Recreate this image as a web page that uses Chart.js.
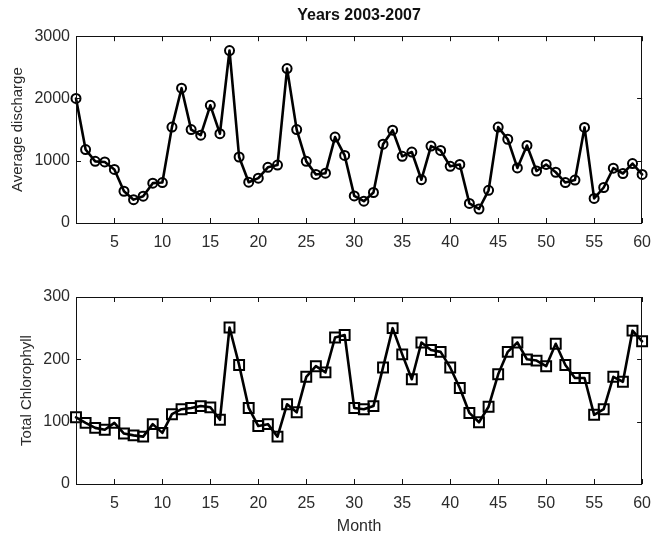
<!DOCTYPE html>
<html>
<head>
<meta charset="utf-8">
<script src="https://cdn.jsdelivr.net/npm/chart.js@4.4.0/dist/chart.umd.min.js"></script>
<style>
  html, body { margin: 0; padding: 0; background: #ffffff; }
  #wrap { position: relative; width: 661px; height: 537px; overflow: hidden; }
  canvas { position: absolute; left: 0; }
  #c1 { top: 0; }
  #c2 { top: 268px; }
</style>
</head>
<body>
<div id="wrap">
  <canvas id="c1" width="661" height="268"></canvas>
  <canvas id="c2" width="661" height="269"></canvas>
</div>
<script>
const months = [1,2,3,4,5,6,7,8,9,10,11,12,13,14,15,16,17,18,19,20,
  21,22,23,24,25,26,27,28,29,30,31,32,33,34,35,36,37,38,39,40,
  41,42,43,44,45,46,47,48,49,50,51,52,53,54,55,56,57,58,59,60];

const discharge = [2000,1180,990,980,860,510,375,430,640,650,
  1540,2165,1500,1410,1890,1435,2770,1060,655,720,
  895,930,2480,1500,990,780,800,1380,1085,435,
  350,490,1265,1490,1070,1140,695,1235,1165,910,
  940,315,225,525,1540,1345,885,1245,835,940,
  815,650,690,1535,395,570,880,795,955,780];

const chlorophyll = [107,98,90,87,98,81,78,76,96,82,
  112,120,122,125,123,103,251,191,122,93,
  96,76,128,115,172,189,179,235,239,122,
  120,125,187,250,208,168,227,215,212,187,
  154,114,99,124,176,212,227,200,198,189,
  225,191,170,170,111,120,172,164,246,229];

const monthTicks = [5,10,15,20,25,30,35,40,45,50,55,60];
const dischargeTicks = [0,1000,2000,3000];
const chlorophyllTicks = [0,100,200,300];

const titleText = 'Years 2003-2007';
const yLabelTop = 'Average discharge';
const yLabelBottom = 'Total Chlorophyll';
const xLabel = 'Month';

const FONT = "'Liberation Sans', Arial, Helvetica, sans-serif";
const TEXT = '#2b2b2b';

const boxPlugin = {
  id: 'matlabBox',
  afterDraw(chart) {
    const ctx = chart.ctx;
    const a = chart.chartArea;
    const xs = chart.scales.x, ys = chart.scales.y;
    const L = 5;
    ctx.save();
    ctx.strokeStyle = '#111111';
    ctx.lineWidth = 1;
    ctx.strokeRect(Math.round(a.left) + 0.5, Math.round(a.top) + 0.5,
      Math.round(a.right - a.left) - 1, Math.round(a.bottom - a.top));
    ctx.beginPath();
    xs.ticks.forEach(t => {
      const px = Math.round(xs.getPixelForValue(t.value)) + 0.5;
      ctx.moveTo(px, a.bottom); ctx.lineTo(px, a.bottom - L);
      ctx.moveTo(px, a.top); ctx.lineTo(px, a.top + L);
    });
    ys.ticks.forEach(t => {
      const py = Math.round(ys.getPixelForValue(t.value)) + 0.5;
      ctx.moveTo(a.left, py); ctx.lineTo(a.left + L, py);
      ctx.moveTo(a.right, py); ctx.lineTo(a.right - L, py);
    });
    ctx.stroke();
    ctx.restore();
  }
};

function makeChart(id, values, yTicks, yMax, pointStyle, radius, opts) {
  const data = months.map((m, i) => ({ x: m, y: values[i] }));
  return new Chart(document.getElementById(id), {
    type: 'line',
    data: {
      datasets: [{
        data: data,
        borderColor: '#000000',
        borderWidth: 2.6,
        borderJoinStyle: 'round',
        borderCapStyle: 'round',
        pointStyle: pointStyle,
        pointRadius: radius,
        pointBorderWidth: 2,
        pointBorderColor: '#000000',
        pointBackgroundColor: 'rgba(255,255,255,0)',
        tension: 0,
        clip: 10
      }]
    },
    options: {
      responsive: false,
      animation: false,
      events: [],
      layout: { padding: { left: 0, right: 9, top: opts.padTop, bottom: 0 } },
      plugins: {
        legend: { display: false },
        tooltip: { enabled: false },
        title: opts.title ? {
          display: true,
          text: opts.title,
          fullSize: false,
          color: '#111111',
          font: { family: FONT, size: 16, weight: 'bold', lineHeight: 1.2 },
          padding: { top: 6, bottom: 11 }
        } : { display: false }
      },
      scales: {
        x: {
          type: 'linear',
          min: 1, max: 60,
          afterBuildTicks: s => { s.ticks = monthTicks.map(v => ({ value: v })); },
          afterFit: s => { s.height = opts.xHeight; },
          grid: { display: false, drawTicks: false },
          border: { display: false },
          ticks: { color: TEXT, font: { family: FONT, size: 16 }, padding: 10, maxRotation: 0,
                   callback: v => String(v) },
          title: opts.xTitle ? {
            display: true, text: opts.xTitle, color: TEXT,
            font: { family: FONT, size: 16, lineHeight: 1.2 },
            padding: { top: 0, bottom: 1 }
          } : { display: false }
        },
        y: {
          min: 0, max: yMax,
          afterBuildTicks: s => { s.ticks = yTicks.map(v => ({ value: v })); },
          afterFit: s => { s.width = 76; },
          grid: { display: false, drawTicks: false },
          border: { display: false },
          ticks: { color: TEXT, font: { family: FONT, size: 16 }, padding: 6,
                   callback: v => String(v) },
          title: {
            display: true, text: opts.yTitle, color: TEXT,
            font: { family: FONT, size: 15, lineHeight: 1.2 },
            padding: { top: opts.yTitlePad, bottom: 0 }
          }
        }
      }
    },
    plugins: [boxPlugin]
  });
}

makeChart('c1', discharge, dischargeTicks, 3000, 'circle', 4.5, {
  padTop: 0, title: titleText, xHeight: 45, xTitle: null,
  yTitle: yLabelTop, yTitlePad: 9
});
makeChart('c2', chlorophyll, chlorophyllTicks, 300, 'rect', 7, {
  padTop: 29, title: null, xHeight: 53, xTitle: xLabel,
  yTitle: yLabelBottom, yTitlePad: 18
});
</script>
</body>
</html>
